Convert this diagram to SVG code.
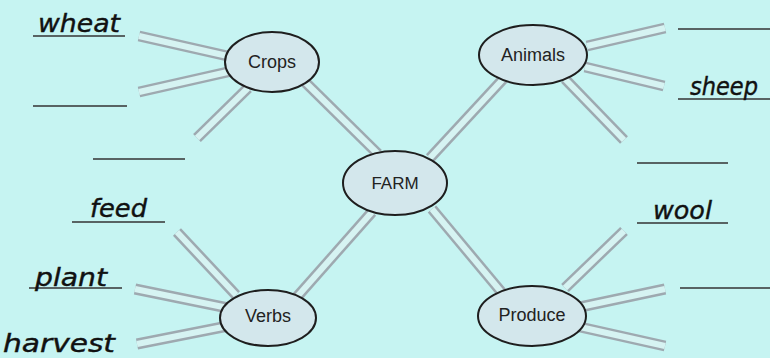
<svg xmlns="http://www.w3.org/2000/svg" width="770" height="358" viewBox="0 0 770 358">
<style>
.c-out{stroke:#9ea9b0;stroke-width:11;stroke-linecap:butt;fill:none}
.c-in{stroke:#d6f3f2;stroke-width:6;stroke-linecap:butt;fill:none}
.node ellipse{fill:#d3e7ec;stroke:#1e1e1e;stroke-width:2}
.node text{font-family:"Liberation Sans",Arial,sans-serif;font-size:18px;fill:#222;text-anchor:middle}
.ul{stroke:#333;stroke-width:1.6}
.hw{font-family:"DejaVu Sans",sans-serif;font-style:oblique;font-size:24px;fill:#111;stroke:#111;stroke-width:0.4}
</style>
<rect width="770" height="358" fill="#c6f4f2"/>
<g id="connectors">
<g class="c-out">
<line x1="139" y1="36" x2="232" y2="57"/>
<line x1="139" y1="92" x2="232" y2="71"/>
<line x1="197" y1="138" x2="248" y2="88"/>
<line x1="305" y1="82" x2="378" y2="154"/>
<line x1="587" y1="46" x2="665" y2="28"/>
<line x1="585" y1="67" x2="664" y2="86"/>
<line x1="565" y1="79" x2="624" y2="140"/>
<line x1="505" y1="77" x2="430" y2="158"/>
<line x1="177" y1="232" x2="236" y2="295"/>
<line x1="135" y1="289" x2="228" y2="308"/>
<line x1="137" y1="344" x2="228" y2="326"/>
<line x1="296" y1="298" x2="372" y2="212"/>
<line x1="565" y1="288" x2="624" y2="231"/>
<line x1="580" y1="307" x2="665" y2="289"/>
<line x1="580" y1="327" x2="665" y2="346"/>
<line x1="432" y1="209" x2="503" y2="294"/>
</g>
<g class="c-in">
<line x1="139" y1="36" x2="232" y2="57"/>
<line x1="139" y1="92" x2="232" y2="71"/>
<line x1="197" y1="138" x2="248" y2="88"/>
<line x1="305" y1="82" x2="378" y2="154"/>
<line x1="587" y1="46" x2="665" y2="28"/>
<line x1="585" y1="67" x2="664" y2="86"/>
<line x1="565" y1="79" x2="624" y2="140"/>
<line x1="505" y1="77" x2="430" y2="158"/>
<line x1="177" y1="232" x2="236" y2="295"/>
<line x1="135" y1="289" x2="228" y2="308"/>
<line x1="137" y1="344" x2="228" y2="326"/>
<line x1="296" y1="298" x2="372" y2="212"/>
<line x1="565" y1="288" x2="624" y2="231"/>
<line x1="580" y1="307" x2="665" y2="289"/>
<line x1="580" y1="327" x2="665" y2="346"/>
<line x1="432" y1="209" x2="503" y2="294"/>
</g>
</g>
<g id="farm" class="node"><ellipse cx="395" cy="183" rx="52" ry="32"/><text x="395" y="189" style="font-size:17px">FARM</text></g>
<g id="crops" class="node"><ellipse cx="272" cy="62" rx="47" ry="30"/><text x="272" y="68">Crops</text></g>
<g id="animals" class="node"><ellipse cx="533" cy="55" rx="54" ry="30"/><text x="533" y="61">Animals</text></g>
<g id="verbs" class="node"><ellipse cx="268" cy="318" rx="48" ry="28"/><text x="268" y="322">Verbs</text></g>
<g id="produce" class="node"><ellipse cx="532" cy="316" rx="54" ry="30"/><text x="532" y="321">Produce</text></g>
<g id="blanks">
<line class="ul" x1="33" y1="36" x2="125" y2="36"/>
<text class="hw" x="38" y="32" textLength="82" lengthAdjust="spacingAndGlyphs">wheat</text>
<line class="ul" x1="33" y1="106" x2="127" y2="106"/>
<line class="ul" x1="93" y1="159" x2="185" y2="159"/>
<line class="ul" x1="72" y1="222" x2="165" y2="222"/>
<text class="hw" x="90" y="217" textLength="57" lengthAdjust="spacingAndGlyphs">feed</text>
<line class="ul" x1="29" y1="288" x2="122" y2="288"/>
<text class="hw" x="35" y="286" textLength="72" lengthAdjust="spacingAndGlyphs">plant</text>
<text class="hw" x="3" y="352" textLength="112" lengthAdjust="spacingAndGlyphs">harvest</text>
<line class="ul" x1="678" y1="29" x2="770" y2="29"/>
<line class="ul" x1="678" y1="99" x2="770" y2="99"/>
<text class="hw" x="690" y="95" textLength="68" lengthAdjust="spacingAndGlyphs">sheep</text>
<line class="ul" x1="637" y1="163" x2="728" y2="163"/>
<line class="ul" x1="637" y1="223" x2="728" y2="223"/>
<text class="hw" x="653" y="219" textLength="59" lengthAdjust="spacingAndGlyphs">wool</text>
<line class="ul" x1="680" y1="288" x2="770" y2="288"/>
</g>
</svg>
